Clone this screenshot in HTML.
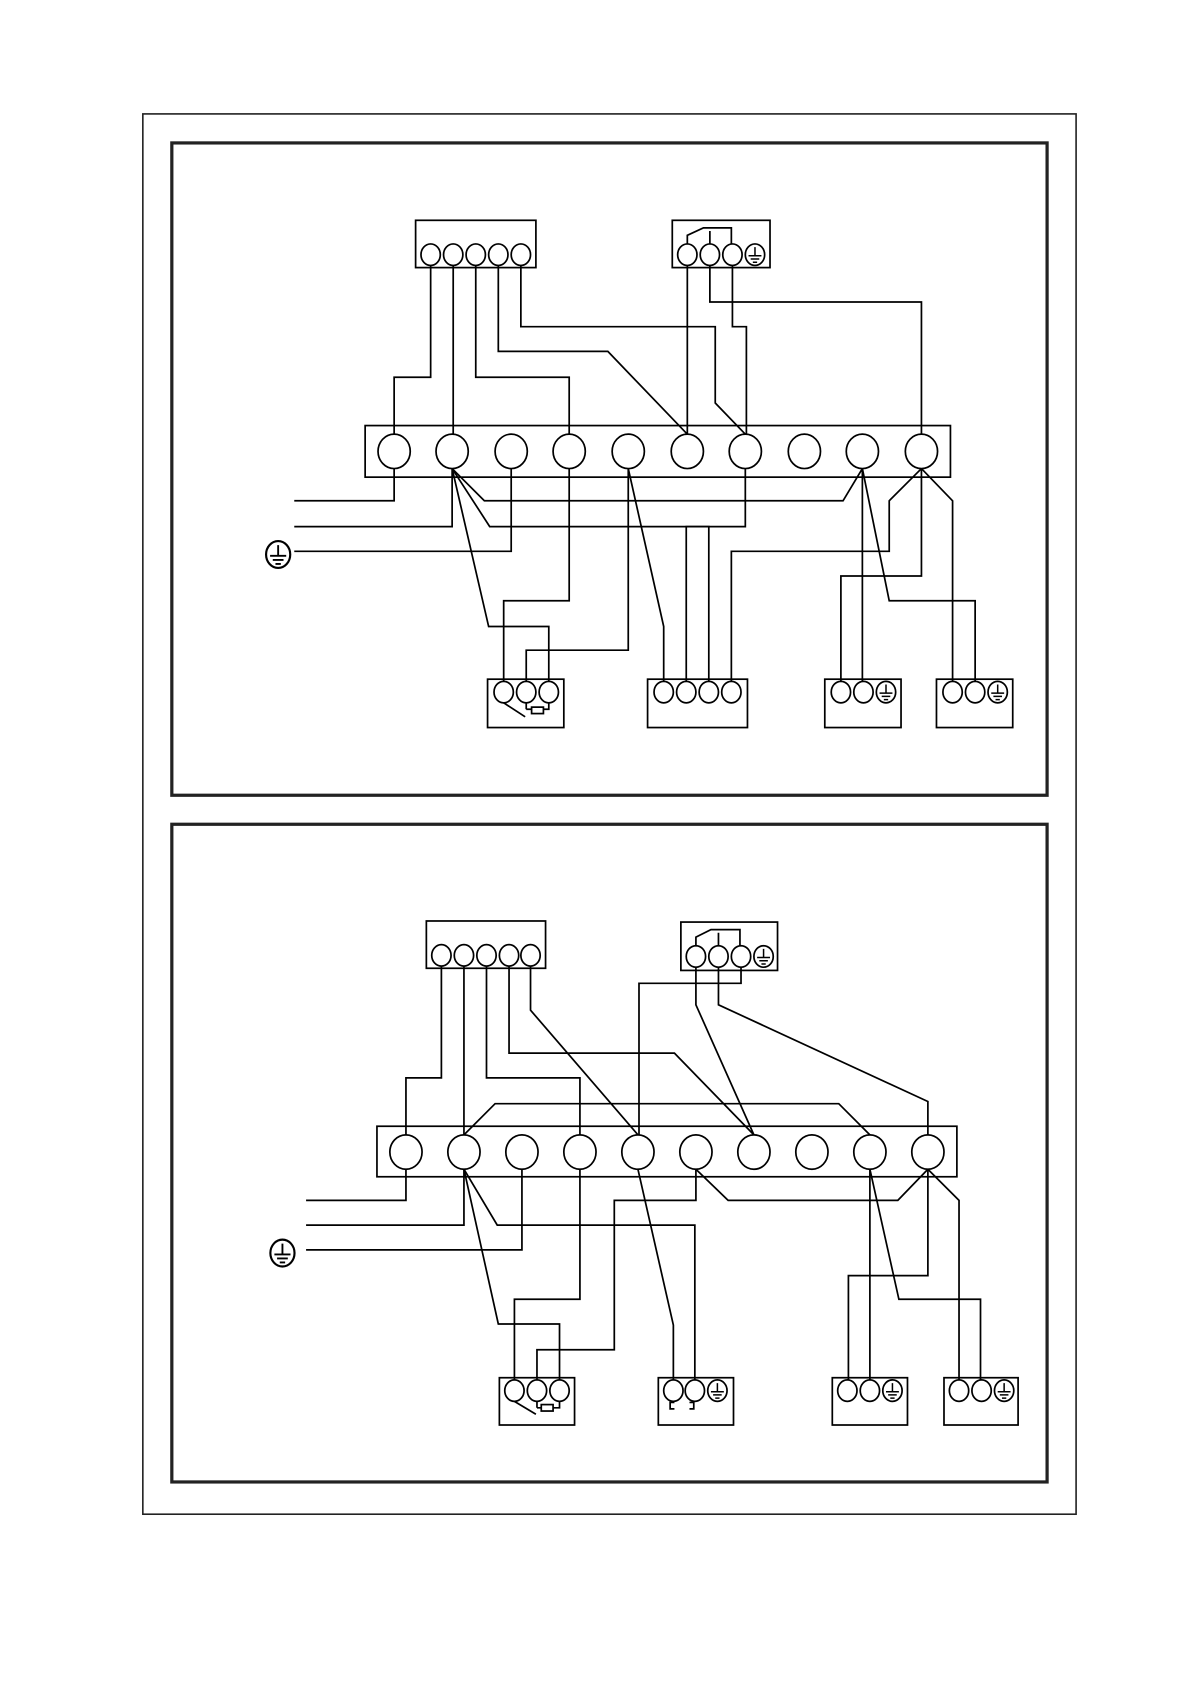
<!DOCTYPE html>
<html><head><style>html,body{margin:0;padding:0;background:#fff}svg{display:block}</style></head>
<body>
<svg width="1191" height="1684" viewBox="0 0 1109 1567" preserveAspectRatio="none" xmlns="http://www.w3.org/2000/svg">
<defs>
<g id="gnd"><ellipse cx="0" cy="0" rx="9" ry="10" fill="#fff" stroke="#000" stroke-width="1.6"/><path d="M0,-7V1M-6,1H6M-4,4H4M-2,7H2" stroke="#000" stroke-width="1.4" fill="none"/></g>
</defs>
<g fill="none" stroke="#000" stroke-width="1.6">
<rect x="133" y="106" width="869" height="1303" stroke="#222" stroke-width="1.5"/>
<rect x="160" y="133" width="815" height="607" stroke="#222" stroke-width="3"/>
<rect x="160" y="767" width="815" height="612" stroke="#222" stroke-width="3"/>

<rect x="387" y="205" width="112" height="44"/>
<rect x="626" y="205" width="91" height="44"/>
<path d="M640,228V219L655,212H681V228M661,215V228"/>
<rect x="340" y="396" width="545" height="48"/>
<rect x="454" y="632" width="71" height="45"/>
<rect x="603" y="632" width="93" height="45"/>
<rect x="768" y="632" width="71" height="45"/>
<rect x="872" y="632" width="71" height="45"/>
<path d="M469,654L489,667M490,654V660M511,654V660H490"/>
<rect x="495" y="658" width="11" height="6" fill="#fff"/>
<path d="M401,247V351H367V404"/>
<path d="M422,247V404"/>
<path d="M443,247V351H530V404"/>
<path d="M464,247V327H566L640,404"/>
<path d="M485,247V304H666V375L694,404"/>
<path d="M640,247V404"/>
<path d="M661,247V281H858V404"/>
<path d="M682,247V304H695V404"/>
<path d="M367,436V466H274"/>
<path d="M421,436V490H274"/>
<path d="M476,436V513H274"/>
<path d="M421,436L451,466H785L803,436"/>
<path d="M421,436L456,490H660V634"/>
<path d="M421,436L455,583H511V634"/>
<path d="M530,436V559H469V634"/>
<path d="M585,436V605H490V634"/>
<path d="M585,436L618,583V634"/>
<path d="M694,436V490H639V634"/>
<path d="M858,436L828,466V513H681V634"/>
<path d="M803,436V634"/>
<path d="M858,436V536H783V634"/>
<path d="M803,436L828,559H908V634"/>
<path d="M858,436L887,466V634"/>
</g>
<g fill="#fff" stroke="#000" stroke-width="1.6">
<ellipse cx="401" cy="237" rx="9" ry="10"/><ellipse cx="422" cy="237" rx="9" ry="10"/><ellipse cx="443" cy="237" rx="9" ry="10"/><ellipse cx="464" cy="237" rx="9" ry="10"/><ellipse cx="485" cy="237" rx="9" ry="10"/>
<ellipse cx="640" cy="237" rx="9" ry="10"/><ellipse cx="661" cy="237" rx="9" ry="10"/><ellipse cx="682" cy="237" rx="9" ry="10"/>
<ellipse cx="367" cy="420" rx="15" ry="16"/><ellipse cx="421" cy="420" rx="15" ry="16"/><ellipse cx="476" cy="420" rx="15" ry="16"/><ellipse cx="530" cy="420" rx="15" ry="16"/><ellipse cx="585" cy="420" rx="15" ry="16"/><ellipse cx="640" cy="420" rx="15" ry="16"/><ellipse cx="694" cy="420" rx="15" ry="16"/><ellipse cx="749" cy="420" rx="15" ry="16"/><ellipse cx="803" cy="420" rx="15" ry="16"/><ellipse cx="858" cy="420" rx="15" ry="16"/>
<ellipse cx="469" cy="644" rx="9" ry="10"/><ellipse cx="490" cy="644" rx="9" ry="10"/><ellipse cx="511" cy="644" rx="9" ry="10"/>
<ellipse cx="618" cy="644" rx="9" ry="10"/><ellipse cx="639" cy="644" rx="9" ry="10"/><ellipse cx="660" cy="644" rx="9" ry="10"/><ellipse cx="681" cy="644" rx="9" ry="10"/>
<ellipse cx="783" cy="644" rx="9" ry="10"/><ellipse cx="804" cy="644" rx="9" ry="10"/>
<ellipse cx="887" cy="644" rx="9" ry="10"/><ellipse cx="908" cy="644" rx="9" ry="10"/>
</g>
<use href="#gnd" x="703" y="237"/><use href="#gnd" x="825" y="644"/><use href="#gnd" x="929" y="644"/>
<g transform="translate(259,516) scale(1.25)"><use href="#gnd"/></g>

<g fill="none" stroke="#000" stroke-width="1.6">
<rect x="397" y="857" width="111" height="44"/>
<rect x="634" y="858" width="90" height="45"/>
<path d="M648,881V872L662,865H689V881M669,868V881"/>
<rect x="351" y="1048" width="540" height="47"/>
<rect x="465" y="1282" width="70" height="44"/>
<rect x="613" y="1282" width="70" height="44"/>
<rect x="775" y="1282" width="70" height="44"/>
<rect x="879" y="1282" width="69" height="44"/>
<path d="M479,1304L499,1316M500,1304V1310M521,1304V1310H500"/>
<rect x="504" y="1307" width="11" height="6" fill="#fff"/>
<path d="M628,1305H624V1311H628M642,1305H646V1311H642"/>
<path d="M411,899V1003H378V1056"/>
<path d="M432,899V1056"/>
<path d="M453,899V1003H540V1056"/>
<path d="M474,899V980H628L702,1056"/>
<path d="M494,899V940L594,1056"/>
<path d="M690,899V915H595V1056"/>
<path d="M648,899V935L702,1056"/>
<path d="M669,899V935L864,1025V1056"/>
<path d="M432,1056L461,1027H781L810,1056"/>
<path d="M378,1088V1117H285"/>
<path d="M432,1088V1140H285"/>
<path d="M486,1088V1163H285"/>
<path d="M432,1088L463,1140H647V1284"/>
<path d="M432,1088L464,1232H521V1284"/>
<path d="M540,1088V1209H479V1284"/>
<path d="M648,1088V1117H572V1256H500V1284"/>
<path d="M648,1088L678,1117H836L864,1088"/>
<path d="M594,1088L627,1233V1284"/>
<path d="M864,1088V1187H790V1284"/>
<path d="M810,1088V1284"/>
<path d="M810,1088L837,1209H913V1284"/>
<path d="M864,1088L893,1117V1284"/>
</g>
<g fill="#fff" stroke="#000" stroke-width="1.6">
<ellipse cx="411" cy="889" rx="9" ry="10"/><ellipse cx="432" cy="889" rx="9" ry="10"/><ellipse cx="453" cy="889" rx="9" ry="10"/><ellipse cx="474" cy="889" rx="9" ry="10"/><ellipse cx="494" cy="889" rx="9" ry="10"/>
<ellipse cx="648" cy="890" rx="9" ry="10"/><ellipse cx="669" cy="890" rx="9" ry="10"/><ellipse cx="690" cy="890" rx="9" ry="10"/>
<ellipse cx="378" cy="1072" rx="15" ry="16"/><ellipse cx="432" cy="1072" rx="15" ry="16"/><ellipse cx="486" cy="1072" rx="15" ry="16"/><ellipse cx="540" cy="1072" rx="15" ry="16"/><ellipse cx="594" cy="1072" rx="15" ry="16"/><ellipse cx="648" cy="1072" rx="15" ry="16"/><ellipse cx="702" cy="1072" rx="15" ry="16"/><ellipse cx="756" cy="1072" rx="15" ry="16"/><ellipse cx="810" cy="1072" rx="15" ry="16"/><ellipse cx="864" cy="1072" rx="15" ry="16"/>
<ellipse cx="479" cy="1294" rx="9" ry="10"/><ellipse cx="500" cy="1294" rx="9" ry="10"/><ellipse cx="521" cy="1294" rx="9" ry="10"/>
<ellipse cx="627" cy="1294" rx="9" ry="10"/><ellipse cx="647" cy="1294" rx="9" ry="10"/>
<ellipse cx="789" cy="1294" rx="9" ry="10"/><ellipse cx="810" cy="1294" rx="9" ry="10"/>
<ellipse cx="893" cy="1294" rx="9" ry="10"/><ellipse cx="914" cy="1294" rx="9" ry="10"/>
</g>
<use href="#gnd" x="711" y="890"/><use href="#gnd" x="668" y="1294"/><use href="#gnd" x="831" y="1294"/><use href="#gnd" x="935" y="1294"/>
<g transform="translate(263,1166) scale(1.25)"><use href="#gnd"/></g>
</svg>
</body></html>
